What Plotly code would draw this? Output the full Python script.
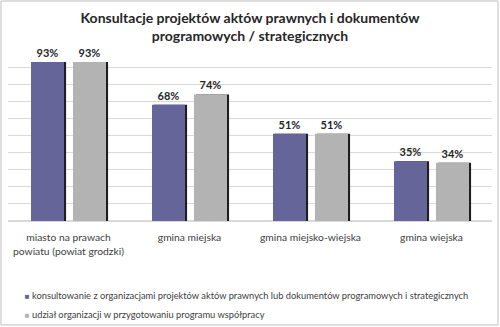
import plotly.graph_objects as go

categories = ["miasto na prawach<br>powiatu (powiat grodzki)", "gmina miejska",
              "gmina miejsko-wiejska", "gmina wiejska"]
series1_name = "konsultowanie z organizacjami projektów aktów prawnych lub dokumentów programowych i strategicznych"
series2_name = "udział organizacji w przygotowaniu programu współpracy"
series1 = [0.93, 0.68, 0.51, 0.35]
series2 = [0.93, 0.74, 0.51, 0.34]
labels1 = ["93%", "68%", "51%", "35%"]
labels2 = ["93%", "74%", "51%", "34%"]

FONT = "Lato"
C1 = "#65659a"
C2 = "#b3b3b3"
SHADOW = "#1e1e1e"
W = 0.273
OFF1 = -0.31
OFF2 = 0.037
SH = 0.017

fig = go.Figure()
# shadows
for vals, off in [(series1, OFF1), (series2, OFF2)]:
    fig.add_trace(go.Bar(x=categories, y=vals, width=W, offset=off + SH,
                         marker=dict(color=SHADOW, line=dict(width=0)),
                         showlegend=False, hoverinfo="skip"))
fig.add_trace(go.Bar(x=categories, y=series1, width=W, offset=OFF1, name=series1_name,
                     marker=dict(color=C1, line=dict(width=0)), text=labels1,
                     textposition="outside", cliponaxis=False,
                     textfont=dict(family=FONT, size=11, color="#262626", weight="bold"),
                     showlegend=False))
fig.add_trace(go.Bar(x=categories, y=series2, width=W, offset=OFF2, name=series2_name,
                     marker=dict(color=C2, line=dict(width=0)), text=labels2,
                     textposition="outside", cliponaxis=False,
                     textfont=dict(family=FONT, size=11, color="#262626", weight="bold"),
                     showlegend=False))
# legend entries (coloured square drawn as text glyph, close to the label as in the reference)
for name, col in [(series1_name, C1), (series2_name, C2)]:
    fig.add_trace(go.Scatter(x=[None], y=[None], mode="markers",
                             name=f'<span style="color:{col};font-size:8px">■</span> {name}',
                             marker=dict(symbol="square", size=1, color="rgba(0,0,0,0)",
                                         line=dict(width=0))))

fig.update_layout(
    width=500, height=327,
    margin=dict(l=8, r=8, t=50, b=106, autoexpand=False),
    paper_bgcolor="white", plot_bgcolor="white",
    barmode="overlay",
    font=dict(family=FONT, color="#404040"),
    title=dict(text="<b>Konsultacje projektów aktów prawnych i dokumentów<br>programowych / strategicznych</b>",
               x=0.5, xanchor="center", y=0.93, yanchor="top",
               font=dict(family=FONT, size=14, color="#262626")),
    xaxis=dict(showgrid=False, ticks="outside", ticklen=7, tickcolor="rgba(0,0,0,0)",
               tickfont=dict(family=FONT, size=10.3, color="#404040"), showline=False),
    yaxis=dict(range=[0, 1], dtick=0.1, showticklabels=False, gridcolor="#d9d9d9",
               gridwidth=1, zeroline=True, zerolinecolor="#d9d9d9", showline=False),
    legend=dict(x=-0.048, xanchor="left", y=-0.348, yanchor="top",
                font=dict(family=FONT, size=9.3, color="#404040"),
                itemwidth=30, tracegroupgap=0, bgcolor="rgba(0,0,0,0)"),
    showlegend=True,
    shapes=[dict(type="rect", xref="paper", yref="paper",
                 x0=-0.0145, x1=1.0124, y0=-0.608, y1=1.2865,
                 line=dict(color="#bfbfbf", width=1), fillcolor="rgba(0,0,0,0)", layer="below")],
)

fig.write_html("out.html")
